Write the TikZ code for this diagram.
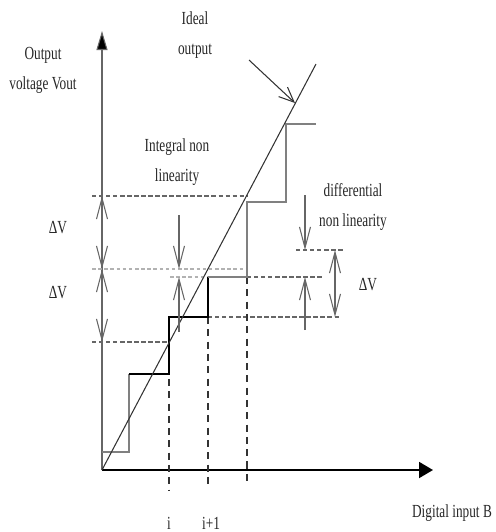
\documentclass[tikz,border=0pt]{standalone}
\usepackage{fontspec}
\setmainfont{Liberation Serif}
\usetikzlibrary{arrows.meta}

\begin{document}
\begin{tikzpicture}[
      x=0.02cm, y=-0.02cm,
      lbl/.style={font=\fontsize{10.5}{17}\selectfont, text=black!85,
        xscale=0.72, align=center, inner sep=0pt},
      axisline/.style={line width=1.1pt, black},
      stair/.style={line width=0.6pt, gray},
      stairbold/.style={line width=1.2pt, black},
      guide/.style={line width=0.6pt, gray!80!black,
        dash pattern=on 2.5pt off 1.5pt},
      faint/.style={line width=0.7pt, gray!60,
        dash pattern=on 2pt off 1.5pt},
      drop/.style={line width=0.6pt, black!80,
        dash pattern=on 4pt off 3pt},
      dim/.style={line width=0.6pt, gray!80!black,
        arrows={-Straight Barb[length=0.42cm, width=0.22cm]}},
      dimboth/.style={dim, arrows={Straight Barb[length=0.42cm, width=0.22cm]-Straight Barb[length=0.42cm, width=0.22cm]}}
    ]
      \useasboundingbox (0,0) rectangle (496,532);
      \clip (0,0) rectangle (496,532);

      % Axes
      \coordinate (orig) at (102,470);
      \coordinate (ytip) at (102,31);
      \coordinate (xtip) at (433,470);
      \draw[line width=0.6pt, gray!80!black,
        -{Triangle[length=0.38cm, width=0.22cm, fill=black]}] (orig) -- (ytip);
      \draw[axisline, -{Triangle[length=0.28cm, width=0.32cm]}] (orig) -- (xtip);

      % Levels and codes
      \coordinate (lvA) at (102,196);
      \coordinate (lvB) at (102,269);
      \coordinate (lvC) at (102,342);
      \coordinate (codeI) at (169,342);
      \coordinate (codeJ) at (208,317);
      \coordinate (codeK) at (247,277);

      % Reference lines
      \draw[guide] (92,196) -- (247,196);
      \draw[faint] (92,269) -- (247,269);
      \draw[guide] (92,342) -- (codeI);
      \draw[faint] (170,277) -- (208,277);
      \draw[guide] (codeK) -- (323,277);
      \draw[guide] (codeJ) -- (340,317);
      \draw[guide] (296,250) -- (344,250);
      \draw[drop] (codeI) -- (169,490);
      \draw[drop] (codeJ) -- (208,488);
      \draw[drop] (codeK) -- (247,485);

      % Staircase
      \draw[stair] (102,452) -| (129,374);
      \draw[stairbold] (129,374) -| (169,317) -| (208,277);
      \draw[stair] (208,277) -| (247,202) -| (286,124) -- (316,124);

      % Ideal output
      \coordinate (idealEnd) at (316,64);
      \draw[line width=0.6pt, black!80] (orig) -- (idealEnd);

      % Step size
      \draw[dimboth] (lvA) -- (lvB);
      \draw[dimboth] (lvB) -- (lvC);
      \node[lbl] (dvA) at (58,228) {ΔV};
      \node[lbl] (dvB) at (58,293) {ΔV};

      % Integral non linearity
      \coordinate (inlTop) at (179,215);
      \coordinate (inlHi) at (179,269);
      \coordinate (inlLo) at (179,277);
      \coordinate (inlBot) at (179,332);
      \draw[dim] (inlTop) -- (inlHi);
      \draw[dim] (inlBot) -- (inlLo);

      % Differential non linearity
      \coordinate (dnlTop) at (305,195);
      \coordinate (dnlHi) at (305,250);
      \coordinate (dnlLo) at (305,277);
      \coordinate (dnlBot) at (305,330);
      \draw[dim] (dnlTop) -- (dnlHi);
      \draw[dim] (dnlBot) -- (dnlLo);
      \draw[dimboth] (335,250) -- (335,317);
      \node[lbl] (dvC) at (368,285) {ΔV};

      % Labels
      \node[lbl] (yname) at (43,70) {Output\\voltage Vout};
      \node[lbl] (ideal) at (195,35) {Ideal\\output};
      \coordinate (idealTip) at (295,103);
      \draw[line width=0.6pt, black!80,
        -{Straight Barb[length=0.3cm, width=0.26cm]}] (249,60) -- (idealTip);
      \node[lbl] (inl) at (177,162) {Integral non\\linearity};
      \node[lbl] (dnl) at (353,207) {differential\\non linearity};
      \node[lbl] (xname) at (452,513) {Digital input B};
      \node[lbl, anchor=base] (ci) at (169,529) {i};
      \node[lbl, anchor=base] (cj) at (211,529) {i+1};
    \end{tikzpicture}
\end{document}
